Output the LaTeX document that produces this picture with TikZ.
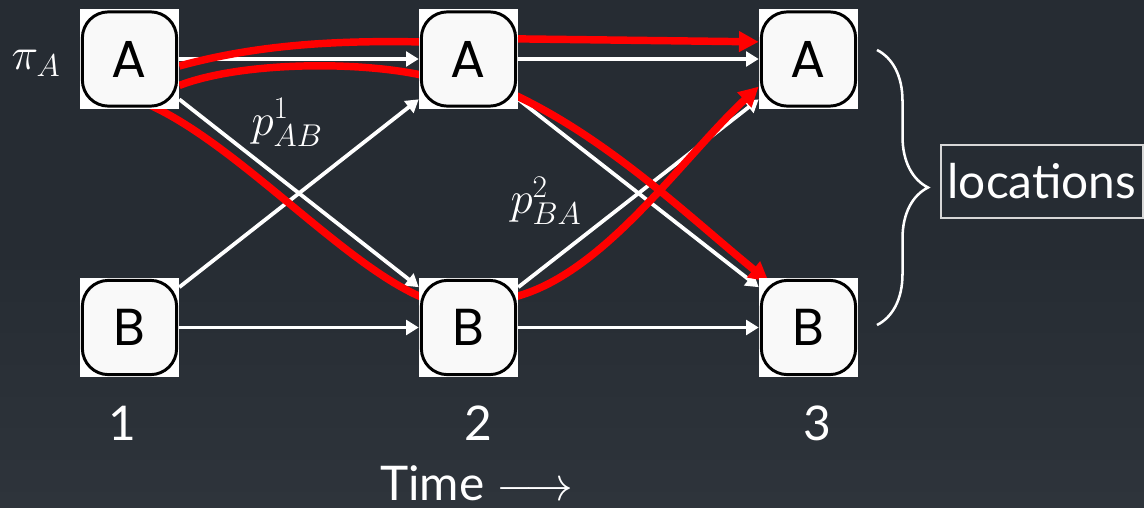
\documentclass[tikz,border=0pt]{standalone}
\usepackage{fix-cm}
\usepackage{fontspec}
\setmainfont{Lato}
\newfontfamily\keyfont{Poppins}
\usepackage{tikz}
\usetikzlibrary{arrows.meta, decorations.pathreplacing}

\definecolor{slate}{RGB}{38,44,51}
\definecolor{slatelow}{RGB}{46,52,59}
\definecolor{keyfill}{RGB}{249,249,249}
\definecolor{routered}{RGB}{255,0,0}
\definecolor{framegray}{RGB}{215,215,215}

\pgfdeclarelayer{canvas}
\pgfdeclarelayer{links}
\pgfsetlayers{canvas,links,main}

\tikzset{
    site/.style={rectangle, fill=white, minimum size=2.475cm, inner sep=0pt, text=black,
        font=\keyfont\fontsize{37}{44}\selectfont,
        path picture={\draw[black, line width=2.1pt, fill=keyfill, rounded corners=0.65cm]
            ([shift={(0.06cm,0.06cm)}]path picture bounding box.south west) rectangle
            ([shift={(-0.06cm,-0.06cm)}]path picture bounding box.north east);}},
    link/.style={white, line width=2.7pt, -{Triangle[length=9pt,width=10.5pt]}},
    route/.style={routered, line width=5.3pt},
    routetip/.style={-{Triangle[length=14pt,width=14pt]}},
    tag/.style={text=white, inner sep=0pt, font=\fontsize{34}{40}\selectfont},
    mathtag/.style={text=white, inner sep=0pt, font=\fontsize{32}{38}\selectfont}
}

\begin{document}
\begin{tikzpicture}[x=0.025cm, y=-0.025cm]
    \useasboundingbox (0,0) rectangle (1144,507);
    \begin{pgfonlayer}{canvas}
        \shade[top color=slate, bottom color=slatelow, middle color=slate] (0,0) rectangle (1144,507);
    \end{pgfonlayer}

    % Locations at each time step
    \node[site] (a1) at (129.5,59) {A};
    \node[site] (a2) at (468.5,59) {A};
    \node[site] (a3) at (808.5,59) {A};
    \node[site] (b1) at (129.5,327.5) {B};
    \node[site] (b2) at (468.5,327.5) {B};
    \node[site] (b3) at (808.5,327.5) {B};

    % Labels
    \node[mathtag] (pia) at (36,63.5) {$\pi_A$};
    \node[mathtag] (pab) at (287,122.5) {$p^1_{AB}$};
    \node[mathtag] (pba) at (546,201) {$p^2_{BA}$};
    \node[tag, anchor=base] (t1) at (122,440) {1};
    \node[tag, anchor=base] (t2) at (478,440) {2};
    \node[tag, anchor=base] (t3) at (817,440) {3};
    \node[tag, anchor=base west] (time) at (380,500) {Time $\longrightarrow$};

    % Brace over the locations
    \draw[white, line width=1.8pt, decorate, decoration={brace, amplitude=1.275cm}] (877,50) -- (877,325);
    \node[tag, draw=framegray, line width=1.1pt, minimum width=5.05cm, minimum height=1.825cm] (locs) at (1042,181.5) {locations};

    \begin{pgfonlayer}{links}
        % Transitions
        \draw[link] (a1.east) -- (a2.west);
        \draw[link] (a1.-39) -- (b2.141);
        \draw[link] (b1.39) -- (a2.-141);
        \draw[link] (b1.east) -- (b2.west);
        \draw[link] (a2.east) -- (a3.west);
        \draw[link] (a2.-39) -- (b3.141);
        \draw[link] (b2.39) -- (a3.-141);
        \draw[link] (b2.east) -- (b3.west);

        % Sample paths
        \draw[route, shorten >=-8pt] (a1.-8) .. controls (260,44) and (340,40) .. (a2.161);
        \draw[route, routetip, shorten <=-8pt] (a2.22) -- (a3.161);
        \draw[route, shorten >=-8pt] (a1.-28) .. controls (240,62) and (360,60) .. (a2.-163);
        \draw[route, routetip, shorten <=-8pt] (a2.-37) .. controls (607,137) and (688,216) .. ([shift={(10,4)}]b3.north west);
        \draw[route, shorten <=-8pt, shorten >=-8pt] (a1.-60) .. controls (240,145) and (350,272) .. (b2.148);
        \draw[route, routetip, shorten <=-8pt] (b2.32) .. controls (600,280) and (680,160) .. (a3.-151);
    \end{pgfonlayer}
\end{tikzpicture}
\end{document}
